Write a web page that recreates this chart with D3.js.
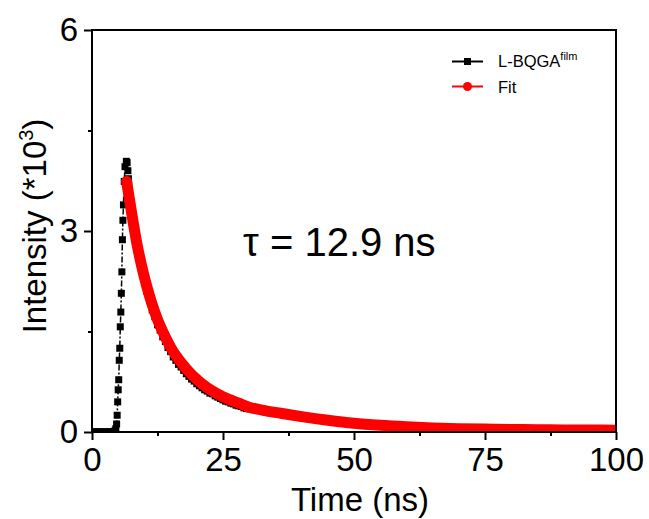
<!DOCTYPE html>
<html><head><meta charset="utf-8">
<script src="https://cdn.jsdelivr.net/npm/d3@7"></script>
<style>body{margin:0;background:#fff}svg{display:block}text{font-family:Arial,"Liberation Sans",sans-serif}</style>
</head><body>
<script>
// Measured decay (L-BQGA film)
const dataTime = [0,0.3,0.6,0.9,1.2,1.5,1.8,2.1,2.4,2.7,3.0,3.3,3.6,3.9,4.2,4.4,4.55,4.7,4.8,4.9,
  5.0,5.1,5.2,5.3,5.4,5.5,5.6,5.7,5.8,5.9,6.0,6.15,6.3,6.55,6.7,6.85,6.95,
  7.0,7.5,8.0,8.5,9.0,9.5,10.0,10.5,11.0,11.5,12.0,12.5,13.0,13.5,14.0,14.5,15.0,15.5,16.0,16.5,17.0,17.5,18.0,18.5,19.0,19.5,20.0,
  20.5,21.0,21.5,22.0,22.5,23.0,23.5,24.0,24.5,25.0,25.5,26.0,26.5,27.0,27.5,28.0,28.5,29.0,29.5,30.0,
  31,32,33,34,35,36,37,38,39,40,41,42,43,44,45,46,47,48,49,50,52,54,56,58,60,62,64,66,68,70,72,74,76,78,80,82,84,86,88,90,92,94,96,98,100];
const dataIntensity = [0,0,0,0,0,0,0,0,0,0,0,0,0,0,0.005,0.02,0.05,0.12,0.25,0.45,
  0.63,0.78,1.07,1.25,1.57,1.79,2.07,2.39,2.87,3.16,3.39,3.74,3.96,4.04,4.02,3.90,3.78,
  3.70,3.42,3.15,2.92,2.72,2.52,2.30,2.10,1.96,1.82,1.72,1.60,1.52,1.42,1.35,1.26,1.20,1.12,1.07,1.01,0.97,0.92,0.87,0.83,0.79,0.76,0.72,
  0.69,0.66,0.63,0.61,0.58,0.57,0.54,0.52,0.50,0.48,0.46,0.45,0.43,0.42,0.40,0.39,0.38,0.36,0.35,0.345,
  0.335,0.32,0.305,0.29,0.275,0.265,0.25,0.24,0.225,0.215,0.205,0.195,0.185,0.175,0.168,0.158,0.15,0.142,0.135,0.128,0.115,0.102,0.092,0.083,0.076,0.068,0.062,0.057,0.053,0.049,0.046,0.043,0.041,0.039,0.037,0.035,0.034,0.033,0.032,0.030,0.029,0.029,0.028,0.027,0.026];
// Fit curve
const fitTime = [6.6,7.5,8.5,9.5,10.5,11.5,12.5,13.5,14.5,15.5,16.5,17.5,18.5,19.5,20.5,22,24,26,28,30,33,36,40,45,50,55,60,65,70,75,80,85,90,95,100];
const fitIntensity = [3.74,3.30,2.84,2.47,2.16,1.90,1.68,1.50,1.34,1.20,1.09,0.99,0.90,0.82,0.75,0.66,0.565,0.49,0.43,0.37,0.32,0.28,0.23,0.175,0.13,0.10,0.078,0.061,0.05,0.043,0.038,0.034,0.031,0.029,0.027];
const xTicks = [0,25,50,75,100];
const xMinor = [12.5,37.5,62.5,87.5];
const yTicks = [0,3,6];
const yMinor = [1.5,4.5];
const seriesNames = ["L-BQGA","Fit"];

const W=649,H=519;
const svg=d3.select("body").append("svg").attr("width",W).attr("height",H);
const x=d3.scaleLinear().domain([0,100]).range([92,616]);
const y=d3.scaleLinear().domain([0,6]).range([432,30]);

svg.append("clipPath").attr("id","c").append("rect")
  .attr("x",92).attr("y",30).attr("width",524).attr("height",402);

const data=dataTime.map((t,i)=>({t,v:dataIntensity[i]}));
const fit=fitTime.map((t,i)=>({t,v:fitIntensity[i]}));
const g=svg.append("g").attr("clip-path","url(#c)");
const line=d3.line().x(d=>x(d.t)).y(d=>y(d.v));
g.append("path").datum(data).attr("d",line).attr("fill","none").attr("stroke","#000")
  .attr("stroke-width",1.5).attr("stroke-dasharray","6,2,2,2");
const sq=7;
g.selectAll("rect.pt").data(data).join("rect").attr("class","pt")
  .attr("x",d=>x(d.t)-sq/2).attr("y",d=>y(d.v)-sq/2).attr("width",sq).attr("height",sq).attr("fill","#000");
g.append("path").datum(fit).attr("d",d3.line().x(d=>x(d.t)).y(d=>y(d.v)).curve(d3.curveMonotoneX))
  .attr("fill","none").attr("stroke","#ff0000").attr("stroke-width",11)
  .attr("stroke-linecap","round").attr("stroke-linejoin","round");

// frame
svg.append("rect").attr("x",92).attr("y",30).attr("width",524).attr("height",402)
  .attr("fill","none").attr("stroke","#000").attr("stroke-width",2);

// axes
svg.append("g").attr("transform","translate(0,432)")
  .call(d3.axisBottom(x).tickValues(xTicks).tickSize(8).tickPadding(8).tickFormat(d3.format("d")));
svg.append("g").attr("transform","translate(0,432)")
  .call(d3.axisBottom(x).tickValues(xMinor).tickSize(4).tickFormat(""));
svg.append("g").attr("transform","translate(92,0)")
  .call(d3.axisLeft(y).tickValues(yTicks).tickSize(8).tickPadding(6).tickFormat(d3.format("d")));
svg.append("g").attr("transform","translate(92,0)")
  .call(d3.axisLeft(y).tickValues(yMinor).tickSize(4).tickFormat(""));
svg.selectAll(".domain").remove();
svg.selectAll(".tick line").attr("stroke","#000").attr("stroke-width",2);
svg.selectAll(".tick text").attr("font-size",33).attr("fill","#000")
  .attr("font-family","Arial, 'Liberation Sans', sans-serif");

// axis titles
svg.append("text").attr("x",360).attr("y",511).attr("text-anchor","middle")
  .attr("font-size",33).text("Time (ns)");
const yl=svg.append("text").attr("transform","translate(46,226) rotate(-90)")
  .attr("text-anchor","middle").attr("font-size",33);
yl.append("tspan").text("Intensity (*10");
yl.append("tspan").attr("font-size",20).attr("dy",-13).text("3");
yl.append("tspan").attr("dy",13).text(")");

svg.append("text").attr("x",243).attr("y",256).attr("font-size",40).text("τ = 12.9 ns");

// legend
const lg=svg.append("g");
lg.append("line").attr("x1",452).attr("x2",483).attr("y1",61.5).attr("y2",61.5).attr("stroke","#000").attr("stroke-width",2);
lg.append("rect").attr("x",467.5-3.5).attr("y",58).attr("width",7).attr("height",7).attr("fill","#000");
lg.append("line").attr("x1",452).attr("x2",483).attr("y1",86.5).attr("y2",86.5).attr("stroke","#ff0000").attr("stroke-width",2);
lg.append("circle").attr("cx",467.5).attr("cy",86.5).attr("r",4.5).attr("fill","#ff0000");
const t1=lg.append("text").attr("x",498).attr("y",67).attr("font-size",16.5);
t1.append("tspan").text(seriesNames[0]);
t1.append("tspan").attr("font-size",11).attr("dy",-7).text("film");
lg.append("text").attr("x",498).attr("y",93).attr("font-size",16.5).text(seriesNames[1]);
</script>
</body></html>
